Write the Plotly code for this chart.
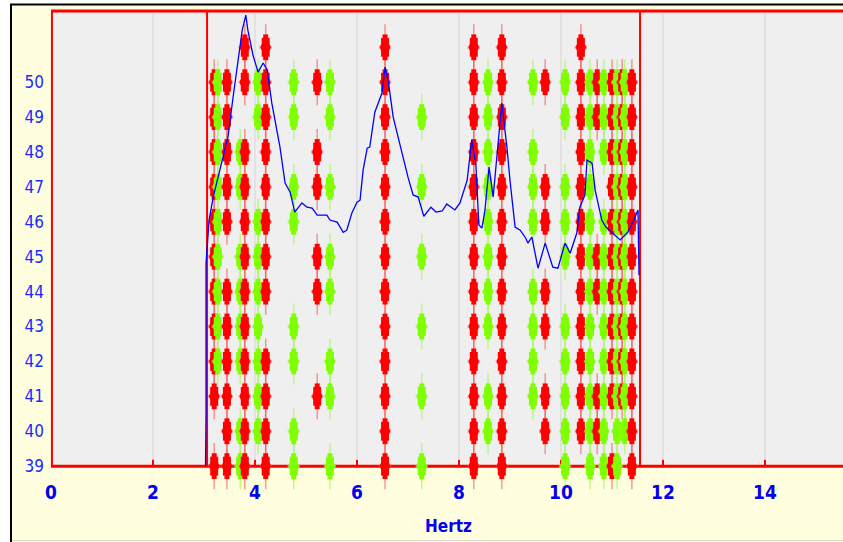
import plotly.graph_objects as go

# ---------------- data ----------------
# spectrum curve (Hz, value)
spec_hz = [3.03, 3.04, 3.04, 3.10, 3.18, 3.31, 3.47, 3.57, 3.67, 3.75, 3.82, 3.86, 3.96, 4.06, 4.16,
           4.24, 4.33, 4.49, 4.59, 4.69, 4.78, 4.92, 5.02, 5.12, 5.22, 5.41, 5.47, 5.61, 5.73, 5.80,
           5.90, 6.00, 6.06, 6.12, 6.20, 6.25, 6.35, 6.49, 6.55, 6.61, 6.71, 6.84, 6.94, 7.00, 7.10,
           7.20, 7.31, 7.45, 7.55, 7.67, 7.76, 7.92, 8.02, 8.16, 8.25, 8.33, 8.39, 8.45, 8.51, 8.59,
           8.67, 8.76, 8.84, 8.94, 9.00, 9.10, 9.20, 9.31, 9.35, 9.43, 9.55, 9.69, 9.84, 9.94, 10.08,
           10.18, 10.31, 10.37, 10.47, 10.51, 10.61, 10.67, 10.80, 10.88, 11.00, 11.16, 11.31, 11.43,
           11.51, 11.53]
spec_val = [39.0, 40.52, 44.82, 46.05, 46.71, 47.48, 48.43, 49.57, 50.72, 51.49, 51.92, 51.49, 50.78,
            50.29, 50.55, 50.35, 49.40, 48.14, 47.11, 46.85, 46.28, 46.54, 46.42, 46.39, 46.19, 46.19,
            46.05, 45.99, 45.70, 45.76, 46.25, 46.56, 46.62, 47.48, 48.11, 48.14, 49.14, 49.69, 50.43,
            50.06, 49.00, 48.20, 47.57, 47.28, 46.77, 46.71, 46.16, 46.42, 46.28, 46.31, 46.51, 46.34,
            46.54, 47.19, 48.34, 47.68, 45.91, 45.82, 46.34, 47.57, 46.71, 48.20, 49.40, 48.14, 47.19,
            45.85, 45.76, 45.53, 45.39, 45.56, 44.67, 45.39, 44.70, 44.67, 45.39, 45.10, 45.68, 46.42,
            46.77, 47.77, 47.68, 46.91, 46.05, 45.85, 45.68, 45.48, 45.70, 46.05, 46.34, 44.47]

# event columns: frequency (Hz) and the levels where an event is marked
red_hz = [3.20, 3.45, 3.80, 4.21, 5.22, 6.55, 8.29, 8.84, 9.69, 10.39, 10.71, 11.00, 11.20, 11.39]
red_levels = [
    [39, 41, 42, 43, 44, 45, 46, 47, 48, 49, 50],
    [39, 40, 41, 42, 43, 44, 46, 47, 48, 49, 50],
    [39, 40, 41, 42, 43, 44, 45, 46, 47, 48, 50, 51],
    [39, 40, 41, 42, 44, 45, 46, 47, 48, 49, 50, 51],
    [41, 44, 45, 47, 48, 50],
    [39, 40, 41, 42, 43, 44, 45, 46, 47, 48, 49, 50, 51],
    [39, 40, 41, 42, 43, 44, 45, 46, 47, 48, 49, 50, 51],
    [39, 40, 41, 42, 43, 44, 45, 46, 47, 48, 49, 50, 51],
    [40, 41, 43, 44, 46, 47, 50],
    [40, 41, 42, 43, 44, 45, 46, 47, 48, 49, 50, 51],
    [40, 41, 44, 45, 49, 50],
    [39, 41, 42, 43, 44, 45, 46, 47, 48, 49, 50],
    [41, 42, 43, 44, 45, 46, 47, 48, 49, 50],
    [39, 40, 41, 42, 43, 44, 45, 46, 47, 48, 49, 50],
]
green_hz = [3.27, 3.71, 4.06, 4.76, 5.47, 7.27, 8.57, 9.45, 10.08, 10.57, 10.84, 11.10, 11.25]
green_levels = [
    [42, 43, 44, 45, 46, 47, 48, 49, 50],
    [39, 40, 42, 43, 44, 45, 47, 48],
    [40, 41, 42, 43, 44, 45, 46, 49, 50],
    [39, 40, 42, 43, 46, 47, 49, 50],
    [39, 41, 42, 44, 45, 47, 49, 50],
    [39, 41, 43, 45, 47, 49],
    [40, 41, 43, 44, 45, 46, 47, 48, 49, 50],
    [41, 42, 43, 44, 46, 47, 48, 50],
    [39, 40, 41, 42, 43, 45, 46, 47, 49, 50],
    [39, 40, 41, 42, 43, 44, 45, 46, 47, 48, 49, 50],
    [39, 40, 41, 42, 43, 44, 45, 46, 48, 49, 50],
    [39, 40, 41, 42, 43, 44, 45, 46, 47, 48, 49, 50],
    [40, 41, 42, 43, 44, 45, 46, 47, 48, 49, 50],
]
band_hz = [3.06, 11.55]
x_ticks = [0, 2, 4, 6, 8, 10, 12, 14]
y_ticks = [39, 40, 41, 42, 43, 44, 45, 46, 47, 48, 49, 50]
x_range = [0, 15.53]
y_min, y_max = 39, 52.04          # visible panel
y_floor = 38.03                    # lower room so bottom-row markers are not clipped

# ---------------- styles ----------------
RED, RED_L = "#FF0000", "rgba(255,70,70,0.55)"
GREEN, GREEN_L = "#80FF00", "rgba(150,255,60,0.6)"
BLUE_TXT = "#1A2BFF"
CREAM = "#FFFFE0"
FONT = "DejaVu Sans Condensed, Liberation Sans Narrow, Arial Narrow, sans-serif"

cols = [(h, lv, RED, RED_L) for h, lv in zip(red_hz, red_levels)] + \
       [(h, lv, GREEN, GREEN_L) for h, lv in zip(green_hz, green_levels)]
cols.sort(key=lambda c: c[0])

fig = go.Figure()
for h, lv, c, cl in cols:
    xs = [h] * len(lv)
    fig.add_trace(go.Scatter(
        x=xs, y=lv, mode="markers", marker=dict(size=1, opacity=0), hoverinfo="skip",
        error_y=dict(type="constant", value=0.66, thickness=1.5, width=0, color=cl),
        error_x=dict(type="constant", value=0.12, thickness=3, width=0, color=cl),
        showlegend=False))
    fig.add_trace(go.Scatter(
        x=xs, y=lv, mode="markers", marker=dict(size=1, opacity=0), hoverinfo="skip",
        error_y=dict(type="constant", value=0.37, thickness=5, width=0, color=c),
        showlegend=False))
    fig.add_trace(go.Scatter(
        x=xs, y=lv, mode="markers", hoverinfo="skip",
        marker=dict(symbol="circle", size=10, color=c, line=dict(width=0)),
        error_y=dict(type="constant", value=0.27, thickness=8, width=0, color=c),
        showlegend=False))

fig.add_trace(go.Scatter(x=spec_hz, y=spec_val, mode="lines",
                         line=dict(color="#0000FF", width=1.3), showlegend=False))

W, H = 843, 542
L, R, T, B = 51, 0, 11, 42
pw, ph = W - L - R, H - T - B


def px(x):
    return (x - L) / pw


def py(y):
    return (H - B - y) / ph


shapes = [
    dict(type="rect", xref="x", yref="y", x0=x_range[0], x1=x_range[1], y0=y_min, y1=y_max,
         fillcolor="#EFEFEF", line=dict(width=0), layer="below"),
]
for t in x_ticks[1:]:
    shapes.append(dict(type="line", xref="x", yref="y", x0=t, x1=t, y0=y_min, y1=y_max,
                       line=dict(color="#D6D6D6", width=1), layer="below"))
    shapes.append(dict(type="line", xref="x", yref="y", x0=t, x1=t, y0=y_min, y1=y_min + 0.18,
                       line=dict(color=RED, width=2), layer="below"))
shapes += [
    dict(type="line", xref="x", yref="y", x0=x_range[0], x1=x_range[1], y0=y_min, y1=y_min,
         line=dict(color=RED, width=3), layer="below"),
    dict(type="line", xref="x", yref="paper", x0=x_range[0], x1=x_range[1], y0=1, y1=1,
         line=dict(color=RED, width=3), layer="above"),
    dict(type="line", xref="paper", yref="y", x0=0.0012, x1=0.0012, y0=y_min, y1=y_max,
         line=dict(color=RED, width=2), layer="above"),
]
for b in band_hz:
    shapes.append(dict(type="line", xref="x", yref="y", x0=b, x1=b, y0=y_min, y1=y_max,
                       line=dict(color=RED, width=2), layer="below"))
shapes += [
    dict(type="rect", xref="paper", yref="paper", x0=px(-5), x1=px(10), y0=py(560), y1=py(-5),
         fillcolor="white", line=dict(width=0), layer="above"),
    dict(type="rect", xref="paper", yref="paper", x0=px(-5), x1=px(850), y0=py(4), y1=py(-5),
         fillcolor="white", line=dict(width=0), layer="above"),
    dict(type="line", xref="paper", yref="paper", x0=px(11), x1=px(11), y0=py(560), y1=py(4),
         line=dict(color="black", width=2), layer="above"),
    dict(type="line", xref="paper", yref="paper", x0=px(10), x1=px(850), y0=py(4.5), y1=py(4.5),
         line=dict(color="black", width=2), layer="above"),
    dict(type="line", xref="paper", yref="paper", x0=px(12), x1=px(850), y0=py(540.5), y1=py(540.5),
         line=dict(color="#D8D8D0", width=1), layer="above"),
]

fig.update_layout(
    width=W, height=H, autosize=False,
    margin=dict(l=L, r=R, t=T, b=B, pad=0),
    paper_bgcolor=CREAM, plot_bgcolor=CREAM,
    shapes=shapes,
    xaxis=dict(range=x_range, tickvals=x_ticks, showgrid=False, zeroline=False, showline=False,
               ticks="", ticklabelstandoff=-21,
               tickfont=dict(family=FONT, size=19, color="#0000EE", weight="bold")),
    yaxis=dict(range=[y_floor, y_max], tickvals=y_ticks, showgrid=False, zeroline=False,
               showline=False, ticks="", ticklabelstandoff=6,
               tickfont=dict(family=FONT, size=17, color=BLUE_TXT)),
    annotations=[dict(text="<b>Hertz</b>", xref="paper", yref="paper", x=px(449), y=py(526),
                      xanchor="center", yanchor="middle", showarrow=False,
                      font=dict(family=FONT, size=17, color="#0000EE"))],
)

fig.write_html("out.html")
